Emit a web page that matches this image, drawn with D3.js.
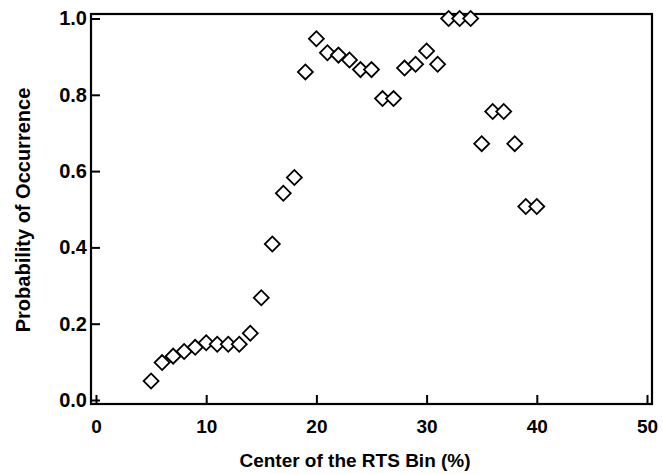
<!DOCTYPE html>
<html>
<head>
<meta charset="utf-8">
<script src="https://cdn.jsdelivr.net/npm/d3@7"></script>
<style>
  body { margin: 0; background: #fff; }
  text { font-family: "Liberation Sans", Arial, sans-serif; font-weight: bold; fill: #000; }
</style>
</head>
<body>
<svg id="chart" width="663" height="474"></svg>
<script>
// bin centers (%) and probability of occurrence
var binCenter = [5, 6, 7, 8, 9, 10, 11, 12, 13, 14, 15, 16, 17, 18, 19, 20, 21, 22,
  23, 24, 25, 26, 27, 28, 29, 30, 31, 32, 33, 34, 35, 36, 37, 38, 39, 40];
var probability = [0.05, 0.098, 0.115, 0.127, 0.138, 0.15, 0.146, 0.146, 0.146, 0.175,
  0.268, 0.409, 0.542, 0.583, 0.86, 0.947, 0.91, 0.904, 0.891, 0.866, 0.866, 0.79,
  0.79, 0.87, 0.88, 0.915, 0.88, 1.0, 1.0, 1.0, 0.672, 0.756, 0.756, 0.672, 0.507, 0.507];
var xTicks = [0, 10, 20, 30, 40, 50];
var yTicks = [0, 0.2, 0.4, 0.6, 0.8, 1.0];

var svg = d3.select("#chart");
var frame = { left: 91, right: 652, top: 14, bottom: 404 };

var x = d3.scaleLinear().domain([0, 50]).range([96, 647]);
var y = d3.scaleLinear().domain([0, 1]).range([400, 18.5]);

// frame
svg.append("rect")
  .attr("x", frame.left).attr("y", frame.top)
  .attr("width", frame.right - frame.left)
  .attr("height", frame.bottom - frame.top)
  .attr("fill", "none").attr("stroke", "#000").attr("stroke-width", 2.2);

// x ticks (pointing up into plot)
var xAxis = svg.append("g").attr("transform", "translate(0," + frame.bottom + ")")
  .call(d3.axisBottom(x).tickValues(xTicks).tickSizeInner(-9).tickSizeOuter(0).tickPadding(16)
    .tickFormat(d3.format("d")));
xAxis.select(".domain").remove();
xAxis.selectAll("line").attr("stroke-width", 2);
xAxis.selectAll("text").style("font-size", "19px").style("font-family", null);

// y ticks (pointing right into plot)
var yAxis = svg.append("g").attr("transform", "translate(" + frame.left + ",0)")
  .call(d3.axisLeft(y).tickValues(yTicks).tickSizeInner(-9).tickSizeOuter(0).tickPadding(4)
    .tickFormat(d3.format(".1f")));
yAxis.select(".domain").remove();
yAxis.selectAll("line").attr("stroke-width", 2);
yAxis.selectAll("text").style("font-size", "20px").style("font-family", null);

// diamond markers
var diamond = d3.symbol().type(d3.symbolSquare).size(112);
svg.append("g").selectAll("path")
  .data(binCenter)
  .join("path")
  .attr("d", diamond)
  .attr("transform", function(d, i) {
    return "translate(" + x(d) + "," + y(probability[i]) + ") rotate(45)";
  })
  .attr("fill", "#fff").attr("stroke", "#000").attr("stroke-width", 1.8);

// axis titles
svg.append("text")
  .attr("x", 355).attr("y", 467)
  .attr("text-anchor", "middle").style("font-size", "19px")
  .text("Center of the RTS Bin (%)");

svg.append("text")
  .attr("transform", "translate(30,210) rotate(-90)")
  .attr("text-anchor", "middle").style("font-size", "20px")
  .text("Probability of Occurrence");
</script>
</body>
</html>
